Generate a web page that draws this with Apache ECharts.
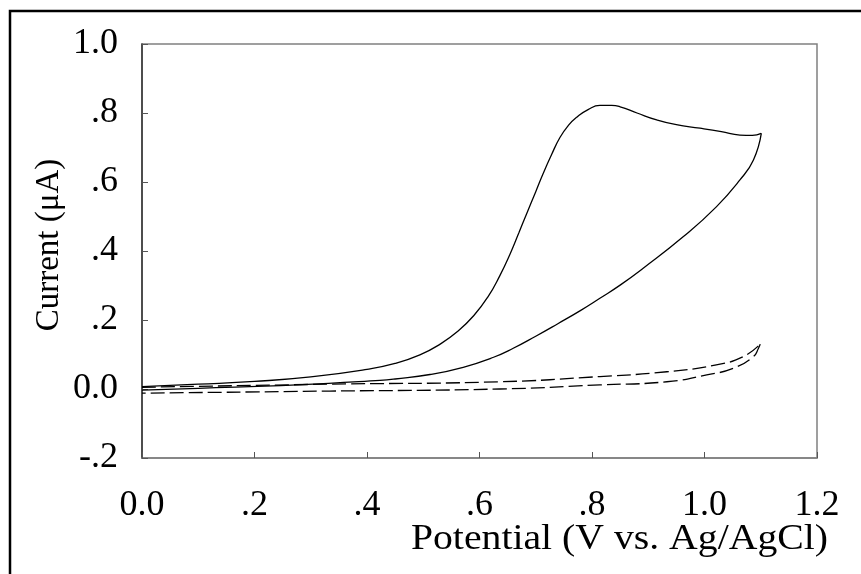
<!DOCTYPE html>
<html>
<head>
<meta charset="utf-8">
<script src="https://cdn.jsdelivr.net/npm/echarts@6/dist/echarts.min.js"></script>
<style>html,body{margin:0;padding:0;background:#fff;}#c{width:861px;height:574px;}</style>
</head>
<body>
<div id="c"></div>
<script>
// Solid CV: forward (anodic) scan, potential (V) / current (uA)
var solidFwdPotential = [0.000, 0.100, 0.200, 0.300, 0.400, 0.450, 0.494, 0.530, 0.562, 0.590, 0.615, 0.636, 0.654, 0.670, 0.684, 0.700, 0.713, 0.728, 0.743, 0.758, 0.773, 0.793, 0.814, 0.835, 0.850, 0.880, 0.915, 0.950, 0.992, 1.030, 1.063, 1.085, 1.101];
var solidFwdCurrent   = [0.007, 0.014, 0.022, 0.035, 0.057, 0.074, 0.099, 0.130, 0.168, 0.213, 0.267, 0.328, 0.390, 0.453, 0.509, 0.572, 0.624, 0.679, 0.729, 0.764, 0.788, 0.810, 0.822, 0.822, 0.818, 0.800, 0.780, 0.766, 0.756, 0.746, 0.736, 0.735, 0.741];
// Solid CV: reverse scan
var solidRevPotential = [1.101, 1.087, 1.063, 1.021, 0.962, 0.891, 0.850, 0.814, 0.780, 0.740, 0.700, 0.660, 0.625, 0.571, 0.512, 0.450, 0.423, 0.275, 0.100, 0.000];
var solidRevCurrent   = [0.741, 0.664, 0.606, 0.528, 0.441, 0.350, 0.301, 0.263, 0.228, 0.190, 0.153, 0.118, 0.092, 0.063, 0.042, 0.029, 0.025, 0.012, 0.002, -0.003];
// Dashed (blank) CV: forward and reverse scans
var dashFwdPotential = [0.000, 0.334, 0.636, 0.814, 0.933, 1.021, 1.069, 1.099];
var dashFwdCurrent   = [0.005, 0.014, 0.021, 0.036, 0.050, 0.070, 0.094, 0.130];
var dashRevPotential = [1.099, 1.096, 1.087, 1.051, 1.004, 0.933, 0.814, 0.636, 0.334, 0.000];
var dashRevCurrent   = [0.130, 0.118, 0.094, 0.060, 0.041, 0.021, 0.012, 0.000, -0.006, -0.012];

var xTickLabels = ['0.0', '.2', '.4', '.6', '.8', '1.0', '1.2'];
var yTickLabels = ['-.2', '0.0', '.2', '.4', '.6', '.8', '1.0'];
var xTitle = 'Potential (V vs. Ag/AgCl)';
var yTitle = 'Current (\u03bcA)';

function pairs(xs, ys) { return xs.map(function (x, i) { return [x, ys[i]]; }); }

var font = '"Liberation Serif", "Times New Roman", serif';
function line(xs, ys, dashed) {
  return {
    type: 'line', data: pairs(xs, ys), smooth: 0.5, showSymbol: false,
    lineStyle: { color: '#000', width: 1.3, type: dashed ? [14, 5] : 'solid' }
  };
}
var chart = echarts.init(document.getElementById('c'), null, { renderer: 'canvas' });
chart.setOption({
  animation: false,
  backgroundColor: '#fff',
  grid: { left: 142, top: 44, right: 44, bottom: 116, show: true, borderColor: '#808080', borderWidth: 1.5 },
  xAxis: {
    type: 'value', min: 0, max: 1.2, interval: 0.2,
    axisLine: { show: true, onZero: false, lineStyle: { color: '#808080', width: 1.5 } },
    axisTick: { show: true, inside: true, length: 6, lineStyle: { color: '#555', width: 1 } },
    splitLine: { show: false },
    axisLabel: {
      margin: 30, color: '#000', fontFamily: font, fontSize: 36,
      formatter: function (v) { return xTickLabels[Math.round(v / 0.2)]; }
    }
  },
  yAxis: {
    type: 'value', min: -0.2, max: 1.0, interval: 0.2,
    axisLine: { show: true, onZero: false, lineStyle: { color: '#333', width: 1.5 } },
    axisTick: { show: true, inside: true, length: 6, lineStyle: { color: '#555', width: 1 } },
    splitLine: { show: false },
    axisLabel: {
      margin: 24, color: '#000', fontFamily: font, fontSize: 36, padding: [8, 0, 0, 0],
      formatter: function (v) { return yTickLabels[Math.round((v + 0.2) / 0.2)]; }
    }
  },
  series: [
    line(solidFwdPotential, solidFwdCurrent, false),
    line(solidRevPotential, solidRevCurrent, false),
    line(dashFwdPotential, dashFwdCurrent, true),
    line(dashRevPotential, dashRevCurrent, true)
  ],
  graphic: [
    { type: 'rect', shape: { x: 10, y: 11, width: 900, height: 700 }, style: { fill: 'none', stroke: '#000', lineWidth: 2.5 }, silent: true },
    { type: 'text', x: 828, y: 557, scaleX: 1.135, originX: 0, style: { text: xTitle, font: '35px ' + font, fill: '#000', textAlign: 'right', textVerticalAlign: 'bottom' } },
    { type: 'text', x: 49, y: 245, rotation: Math.PI / 2, style: { text: yTitle, font: '33px ' + font, fill: '#000', textAlign: 'center', textVerticalAlign: 'middle' } }
  ]
});
</script>
</body>
</html>
